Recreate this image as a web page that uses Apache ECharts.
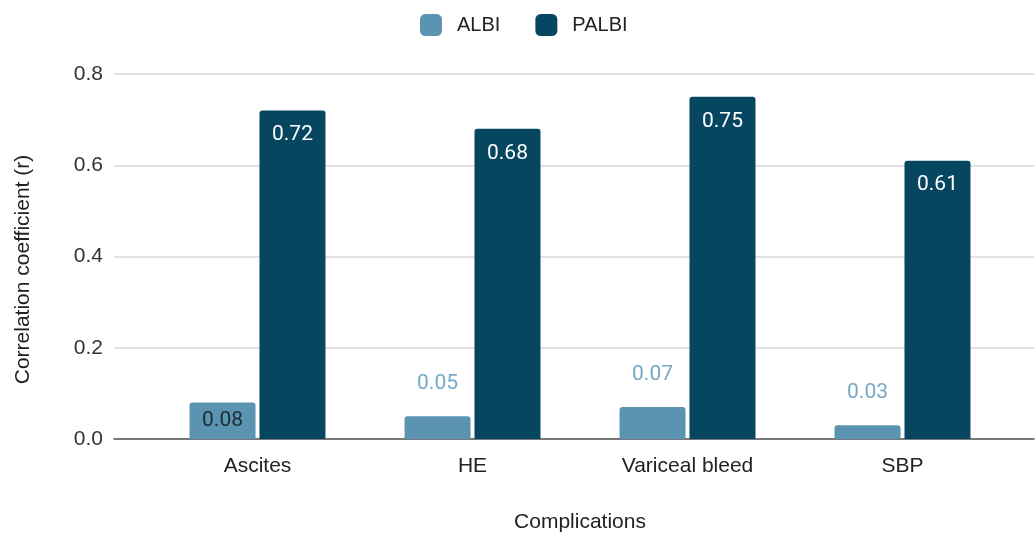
<!DOCTYPE html>
<html>
<head>
<meta charset="utf-8">
<script src="https://cdn.jsdelivr.net/npm/echarts@6/dist/echarts.min.js"></script>
<style>
  html, body { margin: 0; padding: 0; background: #fff; }
  #chart { width: 1035px; height: 533px; }
</style>
</head>
<body>
<div id="chart"></div>
<script>
// Correlation of ALBI / PALBI scores with cirrhosis complications
const categories = ['Ascites', 'HE', 'Variceal bleed', 'SBP'];
const albiValues = [0.08, 0.05, 0.07, 0.03];
const palbiValues = [0.72, 0.68, 0.75, 0.61];
const yTicks = [0, 0.2, 0.4, 0.6, 0.8];

const ALBI_COLOR = '#5b94b1';
const PALBI_COLOR = '#064661';
const AXIS_FONT = '"Liberation Sans", Arial, sans-serif';
const VALUE_FONT = 'Roboto, "Liberation Sans", sans-serif';
const AXIS_SIZE = 21;

// ALBI labels sit inside the bar when it is tall enough, otherwise above it
function albiItem(v) {
  const inside = v >= 0.08;
  return {
    value: v,
    label: inside
      ? { position: 'inside', color: '#1d2b33' }
      : { position: 'top', distance: 22, color: '#78a9c4' }
  };
}

const chart = echarts.init(document.getElementById('chart'), null, { renderer: 'canvas' });

chart.setOption({
  animation: false,
  backgroundColor: '#ffffff',
  legend: {
    top: 9,
    left: 415,
    itemWidth: 22,
    itemHeight: 22,
    itemGap: 35,
    icon: 'roundRect',
    textStyle: { fontFamily: AXIS_FONT, fontSize: 20, color: '#222', padding: [0, 0, 0, 10] },
    data: ['ALBI', 'PALBI']
  },
  grid: [
    // full-width grid carrying the value axis and gridlines
    { left: 114, right: 1, top: 74, bottom: 94, outerBoundsMode: 'none' },
    // grid holding the category bands
    { left: 150, right: 25, top: 74, bottom: 94, outerBoundsMode: 'none' }
  ],
  xAxis: [
    {
      gridIndex: 0,
      type: 'value',
      min: 0, max: 1,
      axisLine: { show: true, onZero: false, lineStyle: { color: '#555', width: 1.5 } },
      axisTick: { show: false },
      axisLabel: { show: false },
      splitLine: { show: false },
      show: true
    },
    {
      gridIndex: 1,
      type: 'category',
      data: categories,
      axisLine: { show: false },
      axisTick: { show: false },
      axisLabel: { fontFamily: AXIS_FONT, fontSize: AXIS_SIZE, color: '#222', margin: 17 },
      name: 'Complications',
      nameLocation: 'middle',
      nameGap: 73,
      nameTextStyle: { fontFamily: AXIS_FONT, fontSize: AXIS_SIZE, color: '#222' }
    }
  ],
  yAxis: [
    {
      gridIndex: 0,
      type: 'value',
      min: yTicks[0],
      max: yTicks[yTicks.length - 1],
      interval: 0.2,
      axisLine: { show: false },
      axisTick: { show: false },
      axisLabel: {
        fontFamily: AXIS_FONT, fontSize: AXIS_SIZE, color: '#333', margin: 11,
        formatter: v => v.toFixed(1)
      },
      splitLine: { lineStyle: { color: '#d9d9d9', width: 1.5 } },
      name: 'Correlation coefficient (r)',
      nameLocation: 'middle',
      nameGap: 80,
      nameTextStyle: { fontFamily: AXIS_FONT, fontSize: AXIS_SIZE, color: '#222', padding: [0, 26, 0, 0] }
    },
    {
      gridIndex: 1,
      type: 'value',
      min: yTicks[0],
      max: yTicks[yTicks.length - 1],
      show: false
    }
  ],
  series: [
    {
      name: 'ALBI',
      type: 'bar',
      xAxisIndex: 1,
      yAxisIndex: 1,
      barWidth: 66,
      barGap: '6%',
      itemStyle: { color: ALBI_COLOR, borderRadius: [3, 3, 0, 0] },
      label: {
        show: true,
        fontFamily: VALUE_FONT,
        fontSize: 21,
        formatter: p => p.value.toFixed(2)
      },
      data: albiValues.map(albiItem),
      z: 3
    },
    {
      name: 'PALBI',
      type: 'bar',
      xAxisIndex: 1,
      yAxisIndex: 1,
      barWidth: 66,
      barGap: '6%',
      itemStyle: { color: PALBI_COLOR, borderRadius: [3, 3, 0, 0] },
      label: {
        show: true,
        position: 'insideTop',
        distance: 14,
        color: '#ffffff',
        fontFamily: VALUE_FONT,
        fontSize: 21,
        formatter: p => p.value.toFixed(2)
      },
      data: palbiValues,
      z: 3
    }
  ]
});
</script>
</body>
</html>
